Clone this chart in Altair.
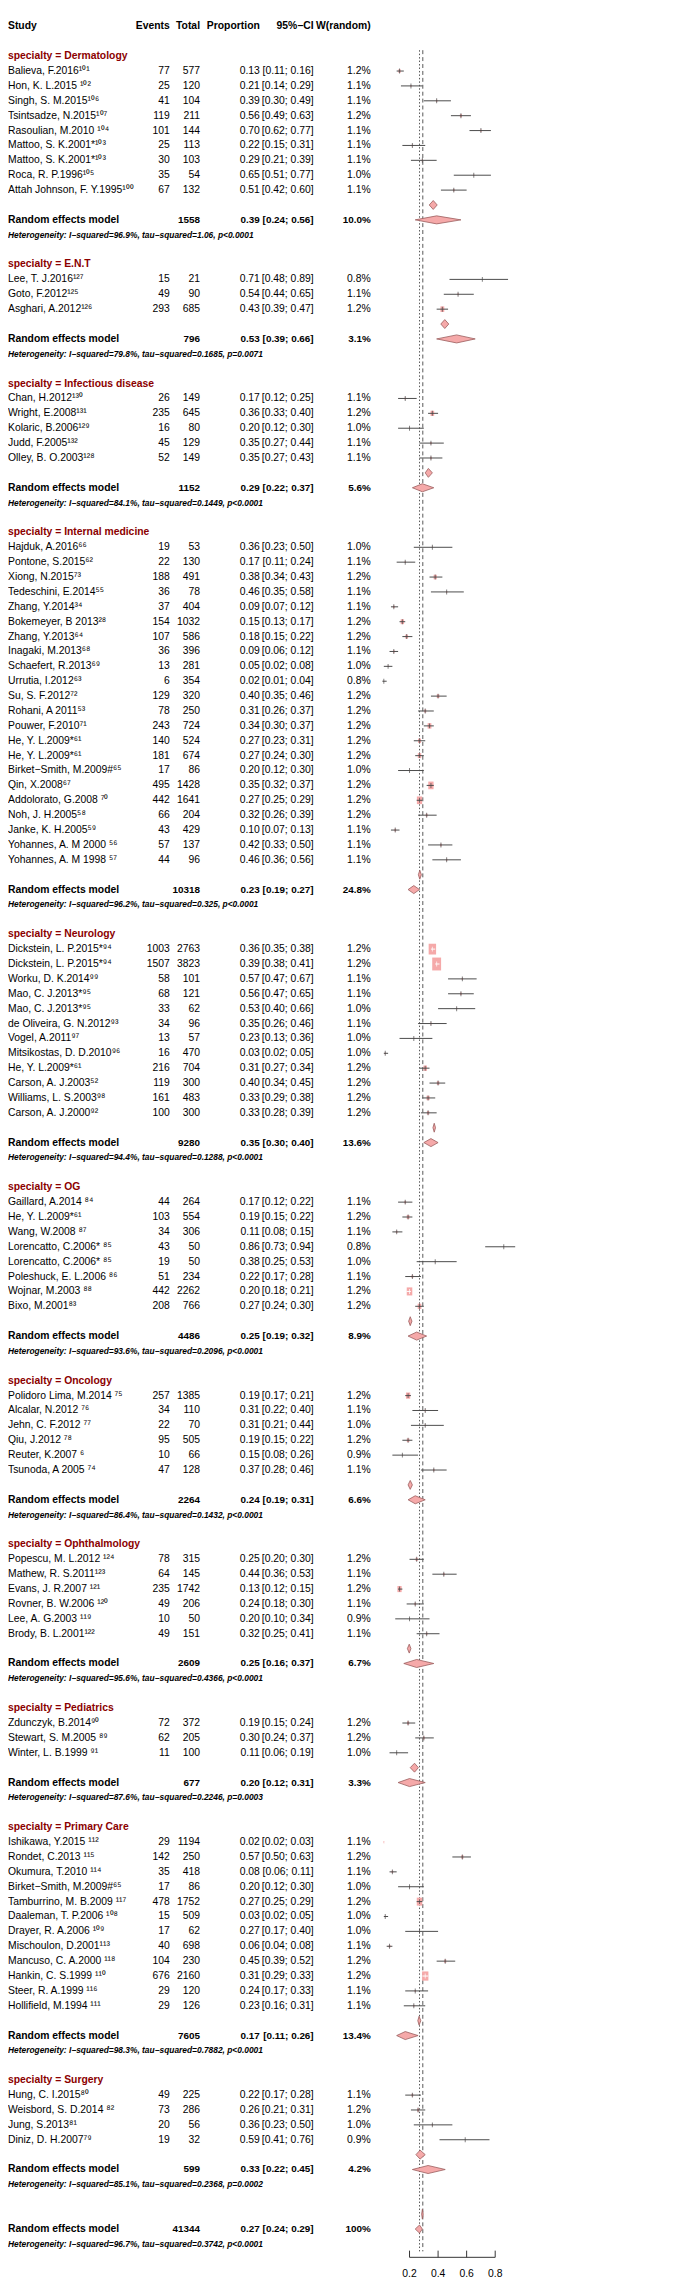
import altair as alt
import pandas as pd

# ---------------- data ----------------
group_names = ["Dermatology", "E.N.T", "Infectious disease", "Internal medicine", "Neurology", "OG",
               "Oncology", "Ophthalmology", "Pediatrics", "Primary Care", "Surgery"]
group_counts = [9, 3, 5, 22, 12, 8, 6, 6, 3, 12, 4]

study_names = [
    "Balieva, F.2016", "Hon, K. L.2015", "Singh, S. M.2015", "Tsintsadze, N.2015", "Rasoulian, M.2010",
    "Mattoo, S. K.2001", "Mattoo, S. K.2001", "Roca, R. P.1996", "Attah Johnson, F. Y.1995",
    "Lee, T. J.2016", "Goto, F.2012", "Asghari, A.2012",
    "Chan, H.2012", "Wright, E.2008", "Kolaric, B.2006", "Judd, F.2005", "Olley, B. O.2003",
    "Hajduk, A.2016", "Pontone, S.2015", "Xiong, N.2015", "Tedeschini, E.2014", "Zhang, Y.2014",
    "Bokemeyer, B 2013", "Zhang, Y.2013", "Inagaki, M.2013", "Schaefert, R.2013", "Urrutia, I.2012",
    "Su, S. F.2012", "Rohani, A 2011", "Pouwer, F.2010", "He, Y. L.2009", "He, Y. L.2009",
    "Birket−Smith, M.2009", "Qin, X.2008", "Addolorato, G.2008", "Noh, J. H.2005", "Janke, K. H.2005",
    "Yohannes, A. M 2000", "Yohannes, A. M 1998",
    "Dickstein, L. P.2015", "Dickstein, L. P.2015", "Worku, D. K.2014", "Mao, C. J.2013", "Mao, C. J.2013",
    "de Oliveira, G. N.2012", "Vogel, A.2011", "Mitsikostas, D. D.2010", "He, Y. L.2009",
    "Carson, A. J.2003", "Williams, L. S.2003", "Carson, A. J.2000",
    "Gaillard, A.2014", "He, Y. L.2009", "Wang, W.2008", "Lorencatto, C.2006", "Lorencatto, C.2006",
    "Poleshuck, E. L.2006", "Wojnar, M.2003", "Bixo, M.2001",
    "Polidoro Lima, M.2014", "Alcalar, N.2012", "Jehn, C. F.2012", "Qiu, J.2012", "Reuter, K.2007",
    "Tsunoda, A 2005",
    "Popescu, M. L.2012", "Mathew, R. S.2011", "Evans, J. R.2007", "Rovner, B. W.2006", "Lee, A. G.2003",
    "Brody, B. L.2001",
    "Zdunczyk, B.2014", "Stewart, S. M.2005", "Winter, L. B.1999",
    "Ishikawa, Y.2015", "Rondet, C.2013", "Okumura, T.2010", "Birket−Smith, M.2009",
    "Tamburrino, M. B.2009", "Daaleman, T. P.2006", "Drayer, R. A.2006", "Mischoulon, D.2001",
    "Mancuso, C. A.2000", "Hankin, C. S.1999", "Steer, R. A.1999", "Hollifield, M.1994",
    "Hung, C. I.2015", "Weisbord, S. D.2014", "Jung, S.2013", "Diniz, D. H.2007",
]
study_refs = [
    "101", " 102", "106", "107", " 104", "*103", "*103", "105", "100",
    "127", "125", "126",
    "130", "131", "129", "132", "128",
    "66", "62", "73", "55", "34", "28", "64", "68", "69", "63", "72", "53", "71", "*61", "*61", "#65",
    "67", " 70", "58", "59", " 56", " 57",
    "*94", "*94", "99", "*95", "*95", "93", "97", "96", "*61", "52", "98", "92",
    " 84", "*61", " 87", "* 85", "* 85", " 86", " 88", "83",
    " 75", " 76", " 77", " 78", " 6", " 74",
    " 124", "123", " 121", " 120", " 119", "122",
    "90", " 89", " 91",
    " 112", " 115", " 114", "#65", " 117", " 108", " 109", "113", " 118", " 110", " 116", " 111",
    "80", " 82", "81", "79",
]
events = [77, 25, 41, 119, 101, 25, 30, 35, 67,
          15, 49, 293,
          26, 235, 16, 45, 52,
          19, 22, 188, 36, 37, 154, 107, 36, 13, 6, 129, 78, 243, 140, 181, 17, 495, 442, 66, 43, 57, 44,
          1003, 1507, 58, 68, 33, 34, 13, 16, 216, 119, 161, 100,
          44, 103, 34, 43, 19, 51, 442, 208,
          257, 34, 22, 95, 10, 47,
          78, 64, 235, 49, 10, 49,
          72, 62, 11,
          29, 142, 35, 17, 478, 15, 17, 40, 104, 676, 29, 29,
          49, 73, 20, 19]
totals = [577, 120, 104, 211, 144, 113, 103, 54, 132,
          21, 90, 685,
          149, 645, 80, 129, 149,
          53, 130, 491, 78, 404, 1032, 586, 396, 281, 354, 320, 250, 724, 524, 674, 86, 1428, 1641, 204, 429, 137, 96,
          2763, 3823, 101, 121, 62, 96, 57, 470, 704, 300, 483, 300,
          264, 554, 306, 50, 50, 234, 2262, 766,
          1385, 110, 70, 505, 66, 128,
          315, 145, 1742, 206, 50, 151,
          372, 205, 100,
          1194, 250, 418, 86, 1752, 509, 62, 698, 230, 2160, 120, 126,
          225, 286, 56, 32]
proportion = [0.13, 0.21, 0.39, 0.56, 0.70, 0.22, 0.29, 0.65, 0.51,
              0.71, 0.54, 0.43,
              0.17, 0.36, 0.20, 0.35, 0.35,
              0.36, 0.17, 0.38, 0.46, 0.09, 0.15, 0.18, 0.09, 0.05, 0.02, 0.40, 0.31, 0.34, 0.27, 0.27, 0.20,
              0.35, 0.27, 0.32, 0.10, 0.42, 0.46,
              0.36, 0.39, 0.57, 0.56, 0.53, 0.35, 0.23, 0.03, 0.31, 0.40, 0.33, 0.33,
              0.17, 0.19, 0.11, 0.86, 0.38, 0.22, 0.20, 0.27,
              0.19, 0.31, 0.31, 0.19, 0.15, 0.37,
              0.25, 0.44, 0.13, 0.24, 0.20, 0.32,
              0.19, 0.30, 0.11,
              0.02, 0.57, 0.08, 0.20, 0.27, 0.03, 0.27, 0.06, 0.45, 0.31, 0.24, 0.23,
              0.22, 0.26, 0.36, 0.59]
ci_lower = [0.11, 0.14, 0.30, 0.49, 0.62, 0.15, 0.21, 0.51, 0.42,
            0.48, 0.44, 0.39,
            0.12, 0.33, 0.12, 0.27, 0.27,
            0.23, 0.11, 0.34, 0.35, 0.07, 0.13, 0.15, 0.06, 0.02, 0.01, 0.35, 0.26, 0.30, 0.23, 0.24, 0.12,
            0.32, 0.25, 0.26, 0.07, 0.33, 0.36,
            0.35, 0.38, 0.47, 0.47, 0.40, 0.26, 0.13, 0.02, 0.27, 0.34, 0.29, 0.28,
            0.12, 0.15, 0.08, 0.73, 0.25, 0.17, 0.18, 0.24,
            0.17, 0.22, 0.21, 0.15, 0.08, 0.28,
            0.20, 0.36, 0.12, 0.18, 0.10, 0.25,
            0.15, 0.24, 0.06,
            0.02, 0.50, 0.06, 0.12, 0.25, 0.02, 0.17, 0.04, 0.39, 0.29, 0.17, 0.16,
            0.17, 0.21, 0.23, 0.41]
ci_upper = [0.16, 0.29, 0.49, 0.63, 0.77, 0.31, 0.39, 0.77, 0.60,
            0.89, 0.65, 0.47,
            0.25, 0.40, 0.30, 0.44, 0.43,
            0.50, 0.24, 0.43, 0.58, 0.12, 0.17, 0.22, 0.12, 0.08, 0.04, 0.46, 0.37, 0.37, 0.31, 0.30, 0.30,
            0.37, 0.29, 0.39, 0.13, 0.50, 0.56,
            0.38, 0.41, 0.67, 0.65, 0.66, 0.46, 0.36, 0.05, 0.34, 0.45, 0.38, 0.39,
            0.22, 0.22, 0.15, 0.94, 0.53, 0.28, 0.21, 0.30,
            0.21, 0.40, 0.44, 0.22, 0.26, 0.46,
            0.30, 0.53, 0.15, 0.30, 0.34, 0.41,
            0.24, 0.37, 0.19,
            0.03, 0.63, 0.11, 0.30, 0.29, 0.05, 0.40, 0.08, 0.52, 0.33, 0.33, 0.31,
            0.28, 0.31, 0.50, 0.76]
weight_random = [1.2, 1.1, 1.1, 1.2, 1.1, 1.1, 1.1, 1.0, 1.1,
                 0.8, 1.1, 1.2,
                 1.1, 1.2, 1.0, 1.1, 1.1,
                 1.0, 1.1, 1.2, 1.1, 1.1, 1.2, 1.2, 1.1, 1.0, 0.8, 1.2, 1.2, 1.2, 1.2, 1.2, 1.0,
                 1.2, 1.2, 1.2, 1.1, 1.1, 1.1,
                 1.2, 1.2, 1.1, 1.1, 1.0, 1.1, 1.0, 1.0, 1.2, 1.2, 1.2, 1.2,
                 1.1, 1.2, 1.1, 0.8, 1.0, 1.1, 1.2, 1.2,
                 1.2, 1.1, 1.0, 1.2, 0.9, 1.1,
                 1.2, 1.1, 1.2, 1.1, 0.9, 1.1,
                 1.2, 1.2, 1.0,
                 1.1, 1.2, 1.1, 1.0, 1.2, 1.0, 1.0, 1.1, 1.2, 1.2, 1.1, 1.1,
                 1.1, 1.2, 1.0, 0.9]

re_total = [1558, 796, 1152, 10318, 9280, 4486, 2264, 2609, 677, 7605, 599]
re_prop = [0.39, 0.53, 0.29, 0.23, 0.35, 0.25, 0.24, 0.25, 0.20, 0.17, 0.33]
re_lower = [0.24, 0.39, 0.22, 0.19, 0.30, 0.19, 0.19, 0.16, 0.12, 0.11, 0.22]
re_upper = [0.56, 0.66, 0.37, 0.27, 0.40, 0.32, 0.31, 0.37, 0.31, 0.26, 0.45]
re_weight = ["10.0%", "3.1%", "5.6%", "24.8%", "13.6%", "8.9%", "6.6%", "6.7%", "3.3%", "13.4%", "4.2%"]
het_i2 = ["96.9%", "79.8%", "84.1%", "96.2%", "94.4%", "93.6%", "86.4%", "95.6%", "87.6%", "98.3%", "85.1%"]
het_tau2 = ["1.06", "0.1685", "0.1449", "0.325", "0.1288", "0.2096", "0.1432", "0.4366", "0.2246", "0.7882", "0.2368"]
het_p = ["p<0.0001", "p=0.0071", "p<0.0001", "p<0.0001", "p<0.0001", "p<0.0001", "p<0.0001",
         "p<0.0001", "p=0.0003", "p<0.0001", "p=0.0002"]

# small diamonds drawn on the blank row above each summary
small_est = [0.366, 0.447, 0.332, 0.272, 0.373, 0.205, 0.205, 0.198, 0.235, 0.267, 0.274]
small_lower = [0.338, 0.419, 0.310, 0.262, 0.364, 0.194, 0.190, 0.185, 0.205, 0.258, 0.245]
small_upper = [0.394, 0.475, 0.360, 0.283, 0.382, 0.217, 0.220, 0.210, 0.262, 0.279, 0.310]

overall_total = 41344
overall_prop, overall_lower, overall_upper = 0.27, 0.24, 0.29
overall_weight = "100%"
overall_het = ("96.7%", "0.3742", "p<0.0001")
overall_small = (0.290, 0.285, 0.296)

ref_dotted = 0.27
ref_dashed = 0.293
x_ticks = [0.2, 0.4, 0.6, 0.8]

# ---------------- styles ----------------
FONT = "Liberation Sans, Arial, Helvetica, sans-serif"
FS = 10.5
FS_BOLDNUM = 10
FS_HET = 8.5
W, H = 680, 2286
ROW_PX = 15.06
yscale = alt.Scale(domain=[0, 151], range=[5, 5 + 151 * ROW_PX], nice=False, zero=False)
X0, XPU = 377.4, 144.5
xscale = alt.Scale(domain=[0, 1], range=[X0, X0 + XPU], nice=False, zero=False)
PINK = "#F5A9A9"
DSTROKE = "#9A5C5C"
LINE = "#4a4a4a"
RED = "#8B0000"
COLX = {"name": 0, "events": 163.7, "total": 194.3, "prop": 254.8, "ci": 309.3, "w": 367.0}

SUP = str.maketrans("0123456789", "⁰¹²³⁴⁵⁶⁷⁸⁹")

# ---------------- build rows ----------------
cells = []
studies = []
diamonds = []


def add(row, col, t, style):
    cells.append(dict(row=row, col=col, t=t, style=style))


def add_diamond(did, est, lo, hi, row, h):
    diamonds.append(dict(id=did, x=lo, ya=row, yb=row))
    diamonds.append(dict(id=did, x=est, ya=row - h, yb=row + h))
    diamonds.append(dict(id=did, x=hi, ya=row, yb=row))


def het_text(i2, t2, p):
    return f"Heterogeneity: I−squared={i2}, tau−squared={t2}, {p}"


add(0, "name", "Study", "head")
add(0, "events", "Events", "head")
add(0, "total", "Total", "head")
add(0, "prop", "Proportion", "head")
add(0, "ci", "95%−CI", "head")
add(0, "w", "W(random)", "head")

wf_all = [e * (n - e) / n for e, n in zip(events, totals)]
wmax = max(wf_all)
SQ_MAX = 81.0


def add_summary(row, total, p, lo, hi, w):
    add(row, "name", "Random effects model", "head")
    add(row, "total", str(total), "bold")
    add(row, "prop", f"{p:.2f}", "bold")
    add(row, "ci", f"[{lo:.2f}; {hi:.2f}]", "bold")
    add(row, "w", w, "bold")


r = 2
k = 0
for g, cnt in enumerate(group_counts):
    add(r, "name", f"specialty = {group_names[g]}", "group")
    for j in range(cnt):
        row = r + 1 + j
        add(row, "name", study_names[k] + study_refs[k].translate(SUP), "norm")
        add(row, "events", str(events[k]), "norm")
        add(row, "total", str(totals[k]), "norm")
        add(row, "prop", f"{proportion[k]:.2f}", "norm")
        add(row, "ci", f"[{ci_lower[k]:.2f}; {ci_upper[k]:.2f}]", "norm")
        add(row, "w", f"{weight_random[k]:.1f}%", "norm")
        side = (SQ_MAX * wf_all[k] / wmax) ** 0.5
        ci_px = (ci_upper[k] - ci_lower[k]) * XPU
        studies.append(dict(row=row, est=proportion[k], lo=ci_lower[k], hi=ci_upper[k], wf=wf_all[k],
                            lc="white" if ci_px < side else LINE))
        k += 1
    srow = r + cnt + 1
    rrow = r + cnt + 2
    add_diamond(f"s{g}", small_est[g], small_lower[g], small_upper[g], srow, 0.30)
    add_diamond(f"r{g}", re_prop[g], re_lower[g], re_upper[g], rrow, 0.27)
    add_summary(rrow, re_total[g], re_prop[g], re_lower[g], re_upper[g], re_weight[g])
    add(rrow + 1, "name", het_text(het_i2[g], het_tau2[g], het_p[g]), "het")
    r += cnt + 5

# overall
add_diamond("so", overall_small[0], overall_small[1], overall_small[2], r, 0.33)
add_diamond("ro", overall_prop, overall_lower, overall_upper, r + 1, 0.27)
add_summary(r + 1, overall_total, overall_prop, overall_lower, overall_upper, overall_weight)
add(r + 2, "name", het_text(*overall_het), "het")
axis_row = r + 2.9

cells_df = pd.DataFrame(cells)
studies_df = pd.DataFrame(studies)
diam_df = pd.DataFrame(diamonds)

Y = alt.Y("row:Q", scale=yscale, axis=None)

STYLE = {
    "norm": dict(fontSize=FS, fontWeight="normal", fontStyle="normal", color="black"),
    "head": dict(fontSize=FS, fontWeight="bold", fontStyle="normal", color="black"),
    "bold": dict(fontSize=FS_BOLDNUM, fontWeight="bold", fontStyle="normal", color="black"),
    "group": dict(fontSize=FS, fontWeight="bold", fontStyle="normal", color=RED),
    "het": dict(fontSize=FS_HET, fontWeight="bold", fontStyle="italic", color="black"),
}

layers = []

# ---- text layers ----
for col, x in COLX.items():
    for style, st in STYLE.items():
        sub = cells_df[(cells_df.col == col) & (cells_df["style"] == style)]
        if sub.empty:
            continue
        layers.append(
            alt.Chart(sub).mark_text(
                align="left" if col == "name" else "right",
                baseline="middle", font=FONT, **st,
            ).encode(x=alt.value(x), y=Y, text="t:N")
        )

# ---- reference lines ----
ref_df = pd.DataFrame({"x": [ref_dotted], "y0": [1.6], "y1": [axis_row - 0.4]})
layers.append(alt.Chart(ref_df).mark_rule(color="#555555", strokeWidth=1, strokeDash=[1.5, 2]).encode(
    x=alt.X("x:Q", scale=xscale, axis=None), y=alt.Y("y0:Q", scale=yscale, axis=None), y2="y1:Q"))
ref_df2 = pd.DataFrame({"x": [ref_dashed], "y0": [1.6], "y1": [axis_row - 0.4]})
layers.append(alt.Chart(ref_df2).mark_rule(color="#555555", strokeWidth=1, strokeDash=[4, 3]).encode(
    x=alt.X("x:Q", scale=xscale, axis=None), y=alt.Y("y0:Q", scale=yscale, axis=None), y2="y1:Q"))

# ---- squares ----
layers.append(alt.Chart(studies_df).mark_point(
    shape="M-1,-1.45L1,-1.45L1,1.45L-1,1.45Z", filled=True, color=PINK, opacity=1, strokeWidth=0
).encode(
    x=alt.X("est:Q", scale=xscale, axis=None), y=Y,
    size=alt.Size("wf:Q", scale=alt.Scale(domain=[0, wmax], range=[0, SQ_MAX]), legend=None)))

# ---- CI lines ----
layers.append(alt.Chart(studies_df).mark_rule(strokeWidth=1).encode(
    x=alt.X("lo:Q", scale=xscale, axis=None), x2="hi:Q", y=Y,
    color=alt.Color("lc:N", scale=None)))

# ---- estimate ticks ----
layers.append(alt.Chart(studies_df).mark_tick(orient="vertical", size=5, thickness=1).encode(
    x=alt.X("est:Q", scale=xscale, axis=None), y=Y,
    color=alt.Color("lc:N", scale=None)))

# ---- diamonds ----
layers.append(alt.Chart(diam_df).mark_area(orient="vertical", fill=PINK, stroke=DSTROKE, strokeWidth=0.8,
                                           opacity=1).encode(
    x=alt.X("x:Q", scale=xscale, axis=None),
    y=alt.Y("ya:Q", scale=yscale, axis=None), y2="yb:Q",
    detail="id:N"))

# ---- x axis ----
axis_df = pd.DataFrame({"x0": [min(x_ticks)], "x1": [max(x_ticks)], "y": [axis_row]})
layers.append(alt.Chart(axis_df).mark_rule(color="#333333", strokeWidth=1).encode(
    x=alt.X("x0:Q", scale=xscale, axis=None), x2="x1:Q", y=alt.Y("y:Q", scale=yscale, axis=None)))
ticks_df = pd.DataFrame({"x": x_ticks, "y0": [axis_row - 0.45] * len(x_ticks), "y1": [axis_row] * len(x_ticks),
                         "lab": [f"{t:.1f}" for t in x_ticks], "ly": [axis_row + 1.1] * len(x_ticks)})
layers.append(alt.Chart(ticks_df).mark_rule(color="#333333", strokeWidth=1).encode(
    x=alt.X("x:Q", scale=xscale, axis=None), y=alt.Y("y0:Q", scale=yscale, axis=None), y2="y1:Q"))
layers.append(alt.Chart(ticks_df).mark_text(font=FONT, fontSize=FS, baseline="middle", align="center",
                                            color="black").encode(
    x=alt.X("x:Q", scale=xscale, axis=None), y=alt.Y("ly:Q", scale=yscale, axis=None), text="lab:N"))

chart = alt.layer(*layers).properties(
    width=W, height=H, padding=0, autosize=alt.AutoSizeParams(type="none"), background="white"
).configure_view(stroke=None)

chart.save("out.html", embed_options={"renderer": "svg", "actions": False})
